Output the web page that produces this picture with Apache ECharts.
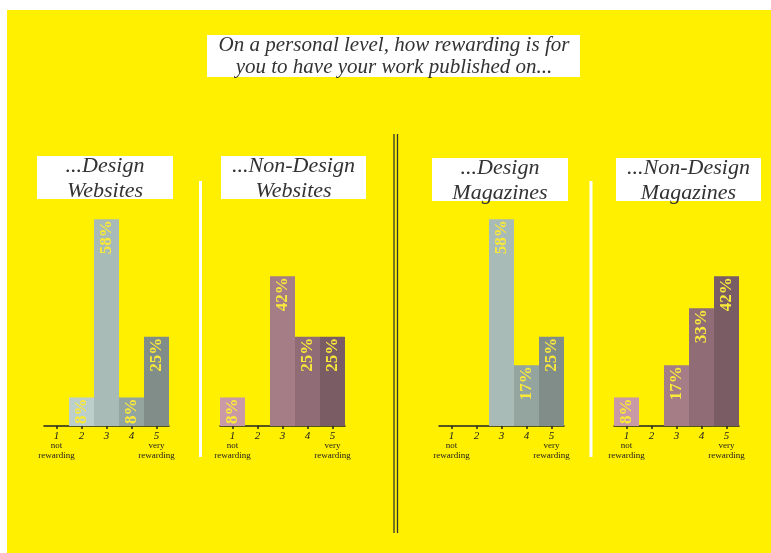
<!DOCTYPE html>
<html>
<head>
<meta charset="utf-8">
<script src="https://cdn.jsdelivr.net/npm/echarts@6/dist/echarts.min.js"></script>
<style>
html,body{margin:0;padding:0;background:#fff;}
#bg{position:absolute;left:7px;top:10px;width:764px;height:543px;background:#fff000;}
#chart{position:absolute;left:0;top:0;width:771px;height:553px;}
</style>
</head>
<body>
<div id="bg"></div>
<div id="chart"></div>
<script>
// ---- data ----
var categories = ['1', '2', '3', '4', '5'];
var panelTitles = ['...Design\nWebsites', '...Non-Design\nWebsites', '...Design\nMagazines', '...Non-Design\nMagazines'];
var designWebsites = [0, 8, 58, 8, 25];
var nonDesignWebsites = [8, 0, 42, 25, 25];
var designMagazines = [0, 0, 58, 17, 25];
var nonDesignMagazines = [8, 0, 17, 33, 42];
var mainTitle = 'On a personal level, how rewarding is for\nyou to have your work published on...';
var lowLabel = ['not', 'rewarding'];
var highLabel = ['very', 'rewarding'];

var designColors = ['#cfe0db', '#bccfca', '#a8bbb6', '#94a5a0', '#808d89'];
var nonDesignColors = ['#c99aa6', '#b68a95', '#a57d86', '#8f6c76', '#7a5c65'];

var seriesData = [designWebsites, nonDesignWebsites, designMagazines, nonDesignMagazines];
var palettes = [designColors, nonDesignColors, designColors, nonDesignColors];
var gridLefts = [44, 220, 439, 614];
var titleBoxes = [[37, 156, 136, 43], [221, 156, 145, 43], [432, 158, 136, 43], [616, 158, 145, 43]];

var chart = echarts.init(document.getElementById('chart'), null, {renderer: 'canvas'});

var grids = [], xAxes = [], yAxes = [], series = [];
for (var i = 0; i < 4; i++) {
  grids.push({left: gridLefts[i], width: 125, top: 212, bottom: 127, containLabel: false});
  xAxes.push({
    type: 'category', gridIndex: i, data: categories,
    axisLine: {show: true, lineStyle: {color: '#222', width: 1.5}},
    axisTick: {show: true, alignWithLabel: true, length: 3, lineStyle: {color: '#222', width: 1.5}},
    axisLabel: {
      margin: 5, interval: 0,
      formatter: function (v) {
        if (v === '1') return '{n|1}\n{s|' + lowLabel[0] + '}\n{s|' + lowLabel[1] + '}';
        if (v === '5') return '{n|5}\n{s|' + highLabel[0] + '}\n{s|' + highLabel[1] + '}';
        return '{n|' + v + '}\n{s| }\n{s| }';
      },
      rich: {
        n: {fontFamily: 'Liberation Serif', fontStyle: 'italic', fontSize: 11, color: '#222', lineHeight: 10},
        s: {fontFamily: 'Liberation Serif', fontSize: 9, color: '#222', lineHeight: 10}
      }
    }
  });
  yAxes.push({type: 'value', gridIndex: i, min: 0, max: 60, show: false, splitLine: {show: false}});
  (function (pal) {
    series.push({
      type: 'bar', xAxisIndex: i, yAxisIndex: i, data: seriesData[i],
      barWidth: '100%', barCategoryGap: 0,
      itemStyle: {color: function (p) { return pal[p.dataIndex]; }},
      label: {
        show: true, position: 'insideTop', rotate: 90, align: 'right', verticalAlign: 'middle',
        distance: 1,
        fontFamily: 'Liberation Serif', fontWeight: 'bold', fontSize: 17, color: '#f8e83a',
        formatter: function (p) { return p.value ? p.value + '%' : ''; }
      }
    });
  })(palettes[i]);
}

var graphics = [];
// main title
graphics.push({type: 'rect', shape: {x: 207, y: 35, width: 373, height: 42}, style: {fill: '#fff'}});
graphics.push({type: 'text', x: 394, y: 34, style: {text: mainTitle, fontFamily: 'Liberation Serif', fontStyle: 'italic', fontSize: 21, lineHeight: 22, fill: '#333', align: 'center', verticalAlign: 'top'}});
// panel titles
for (var j = 0; j < 4; j++) {
  var b = titleBoxes[j];
  graphics.push({type: 'rect', shape: {x: b[0], y: b[1], width: b[2], height: b[3]}, style: {fill: '#fff'}});
  graphics.push({type: 'text', x: b[0] + b[2] / 2, y: b[1] - 2, style: {text: panelTitles[j], fontFamily: 'Liberation Serif', fontStyle: 'italic', fontSize: 22, lineHeight: 25, fill: '#333', align: 'center', verticalAlign: 'top'}});
}
// white separators
graphics.push({type: 'line', shape: {x1: 200.5, y1: 181, x2: 200.5, y2: 457}, style: {stroke: '#fff', lineWidth: 3}});
graphics.push({type: 'line', shape: {x1: 591, y1: 181, x2: 591, y2: 457}, style: {stroke: '#fff', lineWidth: 3}});
// central double line
graphics.push({type: 'line', shape: {x1: 394, y1: 134, x2: 394, y2: 533}, style: {stroke: '#333', lineWidth: 1.3}});
graphics.push({type: 'line', shape: {x1: 397.5, y1: 134, x2: 397.5, y2: 533}, style: {stroke: '#333', lineWidth: 1.3}});

chart.setOption({
  backgroundColor: 'transparent',
  animation: false,
  grid: grids, xAxis: xAxes, yAxis: yAxes, series: series,
  graphic: graphics
});
</script>
</body>
</html>
